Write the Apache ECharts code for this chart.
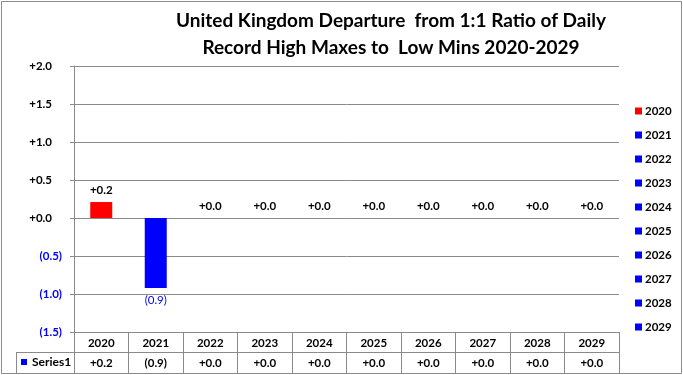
<!DOCTYPE html>
<html><head><meta charset="utf-8">
<script src="https://cdn.jsdelivr.net/npm/echarts@6/dist/echarts.min.js"></script>
<style>html,body{margin:0;padding:0;background:#fff}#c{width:683px;height:375px}</style>
</head><body><div id="c"></div>
<script>
const categories = ['2020','2021','2022','2023','2024','2025','2026','2027','2028','2029'];
const values = [0.21, -0.92, 0.0, 0.0, 0.0, 0.0, 0.0, 0.0, 0.0, 0.0];
const barColors = ['#FF0000','#0000FF','#0000FF','#0000FF','#0000FF','#0000FF','#0000FF','#0000FF','#0000FF','#0000FF'];
const seriesName = 'Series1';
const titleText = 'United Kingdom Departure  from 1:1 Ratio of Daily\nRecord High Maxes to  Low Mins 2020-2029';

function fmt(v){
  const r = Math.round(Math.abs(v)*10)/10;
  return v < -0.0001 ? '(' + r.toFixed(1) + ')' : '+' + r.toFixed(1);
}
const FONT = 'Lato, "Liberation Sans", sans-serif';
const GRAY = '#8a8a8a';
const chart = echarts.init(document.getElementById('c'));
const series = categories.map((c,i)=>({
  name: c, type:'bar', stack:'all', barWidth:22,
  itemStyle:{color: barColors[i]},
  data: values.map((v,j)=> j===i ? v : '-'),
  label:{show:true, position: values[i] < 0 ? 'bottom' : 'top', distance:6,
    fontFamily:FONT, fontSize:11.5, fontWeight: values[i] < 0 ? 'normal':'bold',
    color: values[i] < 0 ? '#0000FF' : '#000',
    formatter: p => fmt(p.value)}
}));
chart.setOption({
  animation:false,
  textStyle:{fontFamily:FONT},
  title:{text:titleText, left:391, top:7, padding:0, textAlign:'center',
    textStyle:{fontFamily:FONT, fontSize:19, fontWeight:'bold', color:'#000', lineHeight:27}},
  legend:{orient:'vertical', left:630, top:99, itemWidth:7, itemHeight:7, itemGap:10,
    icon:'rect', data:categories,
    textStyle:{fontFamily:FONT, fontSize:11.5, fontWeight:'bold', color:'#000', lineHeight:14, padding:[0,0,0,-2]}},
  grid:{left:74, right:64, top:66, bottom:43},
  xAxis:[{type:'category', data:categories, position:'bottom',
    axisLine:{show:true, onZero:false, lineStyle:{color:GRAY}},
    axisTick:{show:true, length:41, inside:false, lineStyle:{color:GRAY}},
    axisLabel:{margin:5, fontFamily:FONT, fontSize:11.5, fontWeight:'bold', color:'#000'}},
   {type:'category', data:categories, position:'bottom', offset:20,
    axisLine:{show:false, onZero:false}, axisTick:{show:false},
    axisLabel:{margin:5, fontFamily:FONT, fontSize:11.5, fontWeight:'bold', color:'#000',
      formatter:(v, i)=> fmt(values[i])}}],
  yAxis:{type:'value', min:-1.5, max:2.0, interval:0.5,
    axisLine:{show:true, lineStyle:{color:GRAY}},
    axisTick:{show:true, length:4, lineStyle:{color:GRAY}},
    splitLine:{show:true, lineStyle:{color:GRAY}},
    axisLabel:{margin:12, fontFamily:FONT, fontSize:11.5, fontWeight:'bold',
      formatter: v => v < -0.0001 ? '{n|' + fmt(v) + '}' : '{p|' + fmt(v) + '}',
      rich:{p:{color:'#000', fontFamily:FONT, fontSize:11.5, fontWeight:'bold', padding:[0,10,0,0]},
            n:{color:'#0000FF', fontFamily:FONT, fontSize:11.5, fontWeight:'bold'}}}},
  series: series,
  graphic:[
    {type:'rect', shape:{x:1.5,y:1.5,width:680,height:372}, style:{fill:'none', stroke:'#8c8c8c', lineWidth:1}, silent:true},
    {type:'line', shape:{x1:16,y1:352.5,x2:619,y2:352.5}, style:{stroke:GRAY, lineWidth:1}},
    {type:'line', shape:{x1:16,y1:373.5,x2:619,y2:373.5}, style:{stroke:GRAY, lineWidth:1}},
    {type:'line', shape:{x1:16.5,y1:352,x2:16.5,y2:374}, style:{stroke:GRAY, lineWidth:1}},
    {type:'line', shape:{x1:74.5,y1:332,x2:74.5,y2:374}, style:{stroke:GRAY, lineWidth:1}},
    {type:'rect', shape:{x:21,y:359,width:6,height:6}, style:{fill:'#0000FF'}},
    {type:'text', x:32, y:362.5, style:{text:seriesName, fontFamily:FONT, fontSize:12, fontWeight:'bold', fill:'#000', verticalAlign:'middle'}}
  ]
});
</script></body></html>
